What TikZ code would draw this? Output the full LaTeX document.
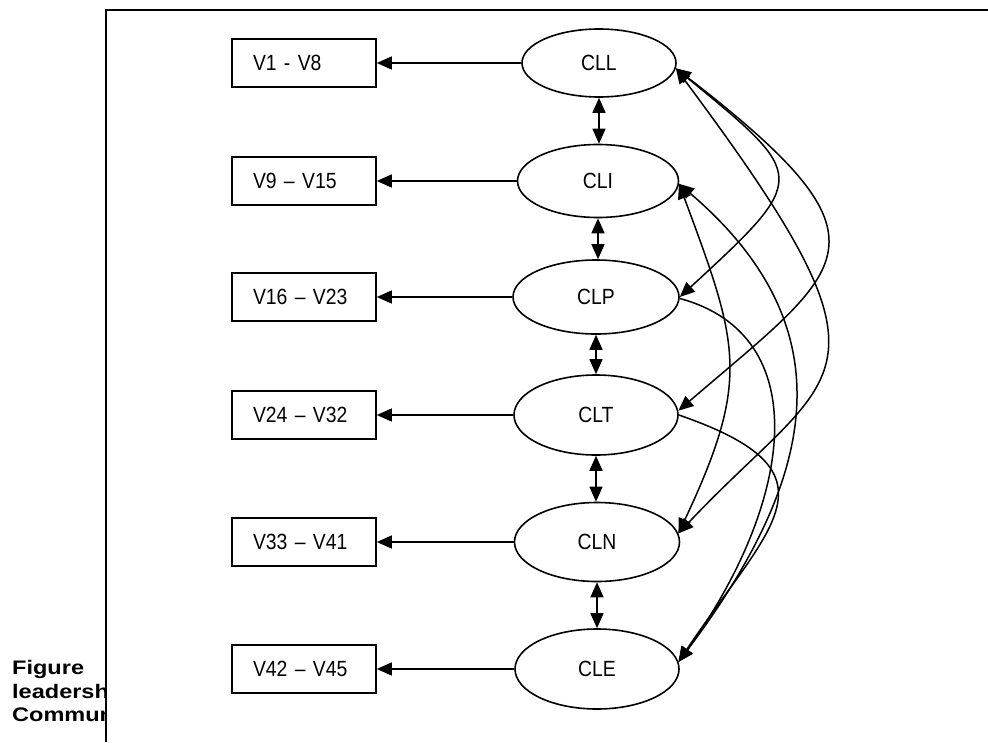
\documentclass[tikz,border=0pt]{standalone}
\usepackage{fontspec}
\setmainfont{Liberation Sans}[FakeStretch=0.88]
\newfontfamily\figfont{Liberation Sans}[FakeStretch=1.2]
\usetikzlibrary{shapes.geometric,arrows.meta}
\tikzset{
  lat/.style={ellipse,draw,line width=1.6pt,inner sep=0pt,font=\fontsize{22}{24}\selectfont},
  obs/.style={rectangle,draw,line width=1.6pt,minimum height=48pt,text width=102pt,inner xsep=21pt,inner ysep=0pt,align=left,font=\fontsize{22}{24}\selectfont},
  conn/.style={line width=1.5pt,>={Triangle[length=15pt,width=13pt]}},
  figtext/.style={anchor=base west,inner sep=0pt,font=\figfont\bfseries\fontsize{19.6}{23.5}\selectfont},
  frame/.style={line width=1.6pt}
}
\begin{document}
\begin{tikzpicture}[x=1pt,y=-1pt]
\useasboundingbox (0,0) rectangle (988,742);
% caption fragments clipped by the frame
\begin{scope}
\clip (0,0) rectangle (105.5,742);
\node[figtext] (f1) at (12,674) {Figure};
\node[figtext] (f2) at (12,698) {leadersh};
\node[figtext] (f3) at (12,721) {Commun};
\end{scope}
\draw[frame] (988,10) -- (106,10) -- (106,742);
% latent variables
\node[lat,minimum width=154pt,minimum height=68pt] (CLL) at (599,63) {CLL};
\node[lat,minimum width=161pt,minimum height=73pt] (CLI) at (598,181) {CLI};
\node[lat,minimum width=166pt,minimum height=74pt] (CLP) at (596,297) {CLP};
\node[lat,minimum width=164pt,minimum height=80pt] (CLT) at (596,415) {CLT};
\node[lat,minimum width=165pt,minimum height=79pt] (CLN) at (597,542) {CLN};
\node[lat,minimum width=164pt,minimum height=80pt] (CLE) at (597,669) {CLE};
% observed blocks
\node[obs] (V1) at (304,63) {V1 - V8};
\node[obs] (V9) at (304,181) {V9 -- V15};
\node[obs] (V16) at (304,297) {V16 -- V23};
\node[obs] (V24) at (304,415) {V24 -- V32};
\node[obs] (V33) at (304,542) {V33 -- V41};
\node[obs] (V42) at (304,669) {V42 -- V45};
% loadings
\draw[conn,->] (CLL.west) -- (V1.east);
\draw[conn,->] (CLI.west) -- (V9.east);
\draw[conn,->] (CLP.west) -- (V16.east);
\draw[conn,->] (CLT.west) -- (V24.east);
\draw[conn,->] (CLN.west) -- (V33.east);
\draw[conn,->] (CLE.west) -- (V42.east);
% adjacent correlations
\draw[conn,<->] (CLL.south) -- (CLL.south |- CLI.north);
\draw[conn,<->] (CLI.south) -- (CLI.south |- CLP.north);
\draw[conn,<->] (CLP.south) -- (CLP.south |- CLT.north);
\draw[conn,<->] (CLT.south) -- (CLT.south |- CLN.north);
\draw[conn,<->] (CLN.south) -- (CLN.south |- CLE.north);
% curved correlations
\draw[conn,<->] (CLL.-4) .. controls (808,177) and (810,177) .. (CLP.0);
\draw[conn,<->] (CLL.-4) .. controls (902,243) and (848,265) .. (CLT.3);
\draw[conn,<->] (CLL.-4) .. controls (912,385) and (837,365) .. (CLN.6);
\draw[conn,<->] (CLI.-2) .. controls (739,345) and (751,379) .. (CLN.6);
\draw[conn,<->] (CLI.-2) .. controls (850,330) and (815,480) .. (CLE.5);
\draw[conn,->] (CLP.-1) .. controls (815,335) and (795,500) .. (CLE.5);
\draw[conn,->] (CLT.0) .. controls (847,473) and (769,526) .. (CLE.5);
\end{tikzpicture}
\end{document}
